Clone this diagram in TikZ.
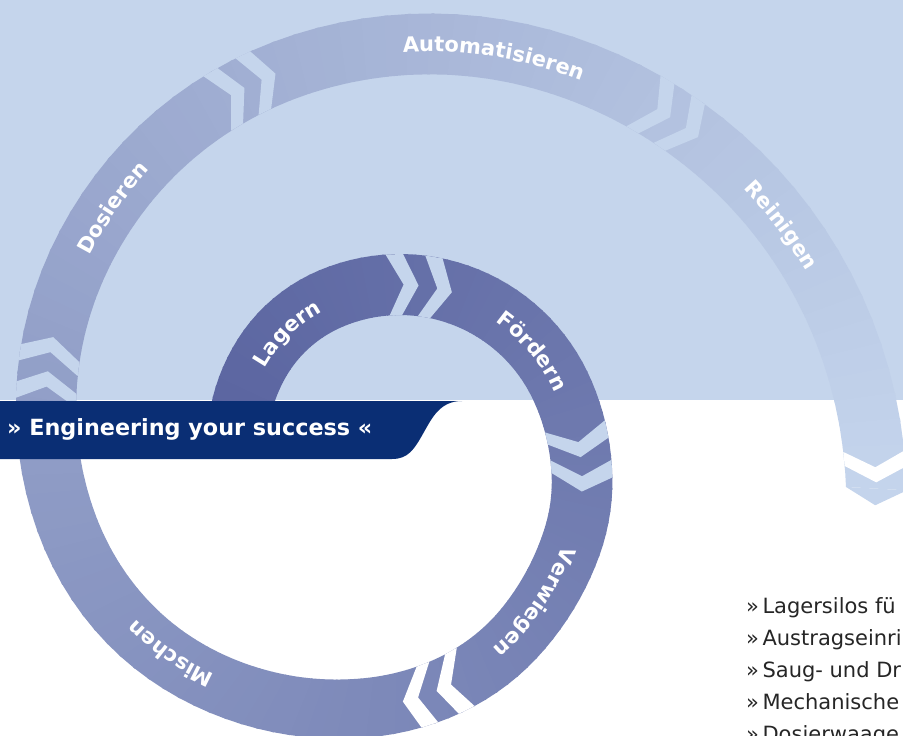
\documentclass[tikz,border=0pt]{standalone}
\usepackage{fontspec}
\setmainfont{DejaVu Sans}
\usetikzlibrary{decorations.text}

\definecolor{bgblue}{HTML}{C5D5EC}
\definecolor{mottoblue}{HTML}{0A2E74}
\definecolor{banddark}{RGB}{90,100,160}
\definecolor{bandlight}{RGB}{196,212,236}

% outer radius of the spiral band, as a function of the angle
\tikzset{
  declare function={
    sr(\u)=(min(max(\u,-15),15)+15)^2/60+max(\u-15,0);
    rout(\ang)=208-0.3*sr(232-\ang)+0.35*sr(\ang-350)+0.55*sr(\ang-400)+0.2*sr(\ang-455)
      +0.35*sr(\ang-475)-0.45*sr(\ang-515)-0.2*sr(\ang-560)-0.28*sr(\ang-600)+0.2*sr(\ang-665);
  },
  motto/.style={anchor=base west, inner sep=0pt, text=white, font=\bfseries\fontsize{22.3}{22.3}\selectfont},
  listtext/.style={anchor=base west, inner sep=0pt, text=black!85, font=\fontsize{21}{21}\selectfont}
}

\newcommand{\bandpiece}[3]{\fill[bandlight!#3!banddark] (#1:{rout(#1)}) -- (#2:{rout(#2)}) -- (#2:{rout(#2)-61}) -- (#1:{rout(#1)-61}) -- cycle;}
\newcommand{\gapchev}[2]{
  \pgfmathsetmacro\rmid{rout(#1)-30.5}
  \pgfmathsetmacro\tipa{#1+16/\rmid*57.3}
  \pgfmathsetmacro\backa{#1+15/\rmid*57.3}
  \pgfmathsetmacro\backtip{\backa+16/\rmid*57.3}
  \fill[#2] (#1:{rout(#1)}) -- (\tipa:{rout(\tipa)-30.5}) -- (#1:{rout(#1)-61})
    -- (\backa:{rout(\backa)-61}) -- (\backtip:{rout(\backtip)-30.5}) -- (\backa:{rout(\backa)}) -- cycle;}
\newcommand{\steplink}[2]{
  \gapchev{#1}{#2}
  \pgfmathsetmacro\secnd{#1+34/(rout(#1)-30.5)*57.3}
  \gapchev{\secnd}{#2}}
\newcommand{\steplabel}[2]{
  \pgfmathsetmacro\labfrom{#1-40}
  \pgfmathsetmacro\labto{#1+40}
  \path[decorate, decoration={text along path, text color=white, text align=center,
    text={|\bfseries\fontsize{21}{21}\selectfont|#2}}]
    plot[domain=\labfrom:\labto, samples=40] (\x:{rout(\x)-38.5});}

\begin{document}
\begin{tikzpicture}[x=1pt,y=-1pt]
  \useasboundingbox (0,0) rectangle (903,736);
  \clip (0,0) rectangle (903,736);
  % background
  \fill[white] (0,0) rectangle (903,736);
  \fill[bgblue] (0,0) rectangle (903,400);

  \begin{scope}[shift={(400,462)}]
    % spiral band
    \gdef\arclen{0}
    \foreach \p in {184,187,...,721}{
      \pgfmathsetmacro\pnext{min(\p+3.4,723.2)}
      \pgfmathsetmacro\mixpc{min(100,\arclen/26.4)}
      \bandpiece{\p}{\pnext}{\mixpc}
      \pgfmathsetmacro\newlen{\arclen+3*(rout(\p+1.5)-30.5)*0.017453}
      \xdef\arclen{\newlen}
    }
    % end arrow
    \fill[bandlight] (723.2:{rout(723.2)}) -- (725.2:{rout(723.2)-30.5}) -- (723.2:{rout(723.2)-61}) -- cycle;

    % chevrons between the steps
    \steplink{266}{bgblue}
    \steplink{348.5}{bgblue}
    \steplink{433}{white}
    \steplink{549.5}{bgblue}
    \steplink{603}{bgblue}
    \steplink{664}{bgblue}
    \gapchev{718.7}{white}

    % step labels
    \steplabel{228}{Lagern}
    \steplabel{320}{Fördern}
    \steplabel{403}{Verwiegen}
    \steplabel{497}{Mischen}
    \steplabel{580}{Dosieren}
    \steplabel{642}{Automatisieren}
    \steplabel{687}{Reinigen}
  \end{scope}

  % banner
  \fill[mottoblue] (0,401) -- (462,401) .. controls (440,401) and (432,418) .. (424,432)
    .. controls (414,450) and (408,459) .. (392,459) -- (0,459) -- cycle;
  \node[motto] (motto) at (7,435) {» Engineering your success «};

  % list
  \node[listtext] (list1) at (746,613) {»\,Lagersilos fü};
  \node[listtext] (list2) at (746,645) {»\,Austragseinri};
  \node[listtext] (list3) at (746,677) {»\,Saug- und Dr};
  \node[listtext] (list4) at (746,709) {»\,Mechanische};
  \node[listtext] (list5) at (746,741) {»\,Dosierwaage};
\end{tikzpicture}
\end{document}
